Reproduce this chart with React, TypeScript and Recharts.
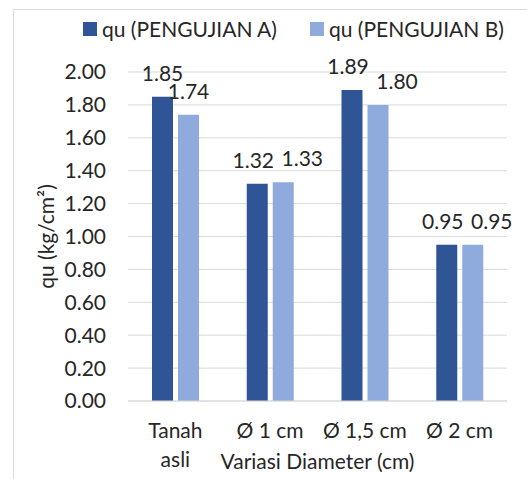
import React from 'react';
import { BarChart, Bar, XAxis, YAxis, CartesianGrid, LabelList, Label } from 'recharts';

const categories = ['Tanah asli', 'Ø 1 cm', 'Ø 1,5 cm', 'Ø 2 cm'];
const quA = [1.85, 1.32, 1.89, 0.95];
const quB = [1.74, 1.33, 1.8, 0.95];
const yTicks = [0, 0.2, 0.4, 0.6, 0.8, 1.0, 1.2, 1.4, 1.6, 1.8, 2.0];

const series = [
  { key: 'a', name: 'qu (PENGUJIAN A)', color: '#2F5597', own: quA, other: quB, side: -1 },
  { key: 'b', name: 'qu (PENGUJIAN B)', color: '#8FAADC', own: quB, other: quA, side: 1 },
];

const data = categories.map((c, i) => ({ name: c, a: quA[i], b: quB[i] }));

const FONT = 'Lato, "Liberation Sans", sans-serif';
const FS = 21;
const INK = '#262626';

// long category names break onto two lines, as in the original
const XTick = ({ x, y, payload }: any) => {
  const label: string = payload.value;
  const lines = label.length > 9 ? label.split(' ') : [label];
  return (
    <text x={x} y={y} textAnchor="middle" fill={INK} fontSize={FS} fontFamily={FONT}>
      {lines.map((ln, i) => (
        <tspan key={i} x={x} dy={i === 0 ? 15 : 29}>
          {ln}
        </tspan>
      ))}
    </text>
  );
};

const YLabel = ({ viewBox }: any) => {
  const cx = viewBox.x + 45;
  const cy = viewBox.y + viewBox.height / 2;
  return (
    <text
      x={cx}
      y={cy}
      transform={`rotate(-90, ${cx}, ${cy})`}
      textAnchor="middle"
      dominantBaseline="central"
      fill={INK}
      fontSize={FS}
      fontFamily={FONT}
    >
      qu (kg/cm²)
    </text>
  );
};

// value labels: when both bars of a group are about the same height,
// push the labels apart sideways like the original does
const makeValueLabel = (own: number[], other: number[], side: number) => (props: any) => {
  const { x, y, width, index } = props;
  const close = Math.abs(own[index] - other[index]) < 0.1;
  const dx = close ? (side < 0 ? -4 : 19) : 0;
  return (
    <text
      x={x + width / 2 + dx}
      y={y - 16}
      textAnchor="middle"
      fill={INK}
      fontSize={FS}
      fontFamily={FONT}
    >
      {own[index].toFixed(2)}
    </text>
  );
};

export default function App() {
  return (
    <div style={{ position: 'absolute', left: 0, top: 0, width: 527, height: 479, background: '#fff', overflow: 'hidden', fontFamily: FONT }}>
      <div style={{ position: 'absolute', left: 13, top: 9, right: -10, bottom: -10, borderLeft: '1px solid #d9d9d9', borderTop: '1px solid #d9d9d9' }} />
      <div style={{ position: 'absolute', left: 83, top: 16, display: 'flex', alignItems: 'center', fontSize: FS, color: INK, whiteSpace: 'nowrap' }}>
        {series.map((s, i) => (
          <div key={s.key} style={{ display: 'flex', alignItems: 'center', marginRight: i === 0 ? 33 : 0 }}>
            <span style={{ display: 'inline-block', width: 14, height: 14, background: s.color, marginRight: 5 }} />
            <span>{s.name}</span>
          </div>
        ))}
      </div>
      <BarChart
        width={527}
        height={479}
        data={data}
        margin={{ top: 72, right: 20, left: 0, bottom: 0 }}
        barSize={21}
        barGap={5}
        style={{ position: 'absolute', left: 0, top: 0 }}
      >
        <CartesianGrid vertical={false} stroke="#d9d9d9" strokeWidth={1} />
        <XAxis
          dataKey="name"
          height={78}
          axisLine={{ stroke: '#d9d9d9' }}
          tickLine={false}
          tickMargin={16}
          tick={<XTick />}
          interval={0}
        >
          <Label
            value="Variasi Diameter (cm)"
            position="insideBottom"
            offset={10}
            fill={INK}
            fontSize={FS}
            fontFamily={FONT}
          />
        </XAxis>
        <YAxis
          width={128}
          domain={[0, 2]}
          ticks={yTicks}
          axisLine={false}
          tickLine={false}
          tickMargin={16}
          tickFormatter={(v: number) => v.toFixed(2)}
          tick={{ fill: INK, fontSize: FS, fontFamily: FONT }}
          label={<YLabel />}
        />
        {series.map((s) => (
          <Bar key={s.key} dataKey={s.key} name={s.name} fill={s.color} isAnimationActive={false}>
            <LabelList dataKey={s.key} content={makeValueLabel(s.own, s.other, s.side)} />
          </Bar>
        ))}
      </BarChart>
    </div>
  );
}
